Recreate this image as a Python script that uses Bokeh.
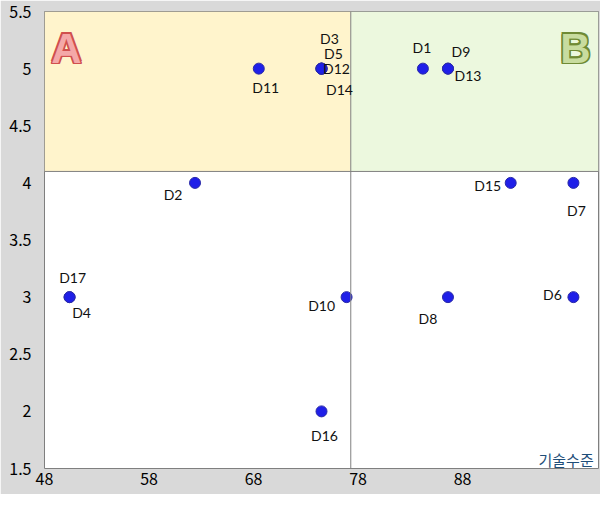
from bokeh.plotting import figure
from bokeh.models import (ColumnDataSource, LabelSet, Label, Span, FixedTicker,
                          CustomJSTickFormatter, Range1d)
from bokeh.core.properties import value
from bokeh.embed import file_html
from bokeh.resources import INLINE

# ---- data ----
names = ["D1", "D2", "D3", "D4", "D5", "D6", "D7", "D8", "D9", "D10",
         "D11", "D12", "D13", "D14", "D15", "D16", "D17"]
tech = [84.2, 62.4, 74.5, 50.4, 74.5, 98.6, 98.6, 86.6, 86.6, 76.9,
        68.5, 74.5, 86.6, 74.5, 92.6, 74.5, 50.4]
effect = [5, 4, 5, 3, 5, 3, 4, 3, 5, 3,
          5, 5, 5, 5, 4, 2, 3]
x_ticks = [48, 58, 68, 78, 88]
y_ticks = [1.5, 2, 2.5, 3, 3.5, 4, 4.5, 5, 5.5]
x_split = 77.3
y_split = 4.1
x_title = "기술수준"
y_title = ["파급", "효과"]

# label offsets (screen px)
dx = [-1, -22, 8, 12, 12, -21, 3, -20, 13, -25, 7, 15, 20, 18, -23, 3, 3]
dy = [21, -12, 30, -15, 15, 3, -28, -21, 17, -8, -19, 0, -7, -21, -3, -24, 20]

X0, X1 = 48, 101
Y0, Y1 = 1.5, 5.5

p = figure(width=600, height=494, output_backend="svg", toolbar_location=None,
           x_range=Range1d(X0, X1), y_range=Range1d(Y0, Y1),
           min_border_left=44, min_border_right=2, min_border_top=11,
           min_border_bottom=26)
p.border_fill_color = "#d9d9d9"
p.background_fill_color = "white"
p.outline_line_color = "#7f7f7f"
p.outline_line_width = 1
p.xgrid.visible = False
p.ygrid.visible = False

# quadrants
p.quad(left=[X0], right=[x_split], bottom=[y_split], top=[Y1],
       fill_color="#fff4cc", line_color=None)
p.quad(left=[x_split], right=[X1], bottom=[y_split], top=[Y1],
       fill_color="#ecf8de", line_color=None)
p.add_layout(Span(location=x_split, dimension="height", line_color="#808080", line_width=1))
p.add_layout(Span(location=y_split, dimension="width", line_color="#808080", line_width=1))

fmt = CustomJSTickFormatter(code="return tick.toString();")
for ax, ticks in ((p.xaxis, x_ticks), (p.yaxis, y_ticks)):
    ax.ticker = FixedTicker(ticks=ticks)
    ax.formatter = fmt
    ax.axis_line_color = None
    ax.major_tick_line_color = None
    ax.minor_tick_line_color = None
    ax.major_tick_out = 0
    ax.major_tick_in = 0
    ax.major_label_text_font = "Noto Sans CJK KR"
    ax.major_label_text_font_size = "16px"
    ax.major_label_text_color = "black"
p.xaxis.major_label_standoff = 4
p.yaxis.major_label_standoff = 13

src = ColumnDataSource(dict(x=tech, y=effect, name=names, dx=dx, dy=dy))
p.scatter("x", "y", source=src, size=11, fill_color="#1f1fe8",
          line_color="#2a2aa8", line_width=1)
p.add_layout(LabelSet(x="x", y="y", text="name", x_offset="dx", y_offset="dy",
                      source=src, text_font=value("Lato"),
                      text_font_size=value("14px"),
                      text_align="center", text_baseline="middle",
                      text_color="#111111"))

# quadrant letters with outline effect
def outlined(letter, xd, yd, fill, edge):
    for ox in (-1.5, 0, 1.5):
        for oy in (-1.5, 0, 1.5):
            if ox == 0 and oy == 0:
                continue
            p.add_layout(Label(x=xd, y=yd, x_offset=ox, y_offset=oy, text=letter,
                               text_font="Liberation Sans", text_font_style="bold",
                               text_font_size="42px", text_color=edge,
                               text_align="center", text_baseline="middle"))
    p.add_layout(Label(x=xd, y=yd, text=letter, text_font="Liberation Sans",
                       text_font_style="bold", text_font_size="42px",
                       text_color=fill, text_align="center",
                       text_baseline="middle"))

outlined("A", 50.1, 5.18, "#f4a8a8", "#d0504e")
outlined("B", 98.8, 5.18, "#c8dc9f", "#6f8a35")

# axis titles
for txt, yy in ((y_title[0], 5.377), (y_title[1], 5.157)):
    p.add_layout(Label(x=46.2, y=yy, text=txt, text_font="Noto Sans CJK KR",
                       text_font_size="13px", text_color="#1f4e79",
                       text_font_style="bold", text_align="center",
                       text_baseline="middle"))
p.add_layout(Label(x=97.9, y=1.575, text=x_title, text_font="Noto Sans CJK KR",
                   text_font_size="15px", text_color="#1f4e79",
                   text_align="center", text_baseline="middle"))

open("out.html", "w").write(file_html(p, INLINE))
